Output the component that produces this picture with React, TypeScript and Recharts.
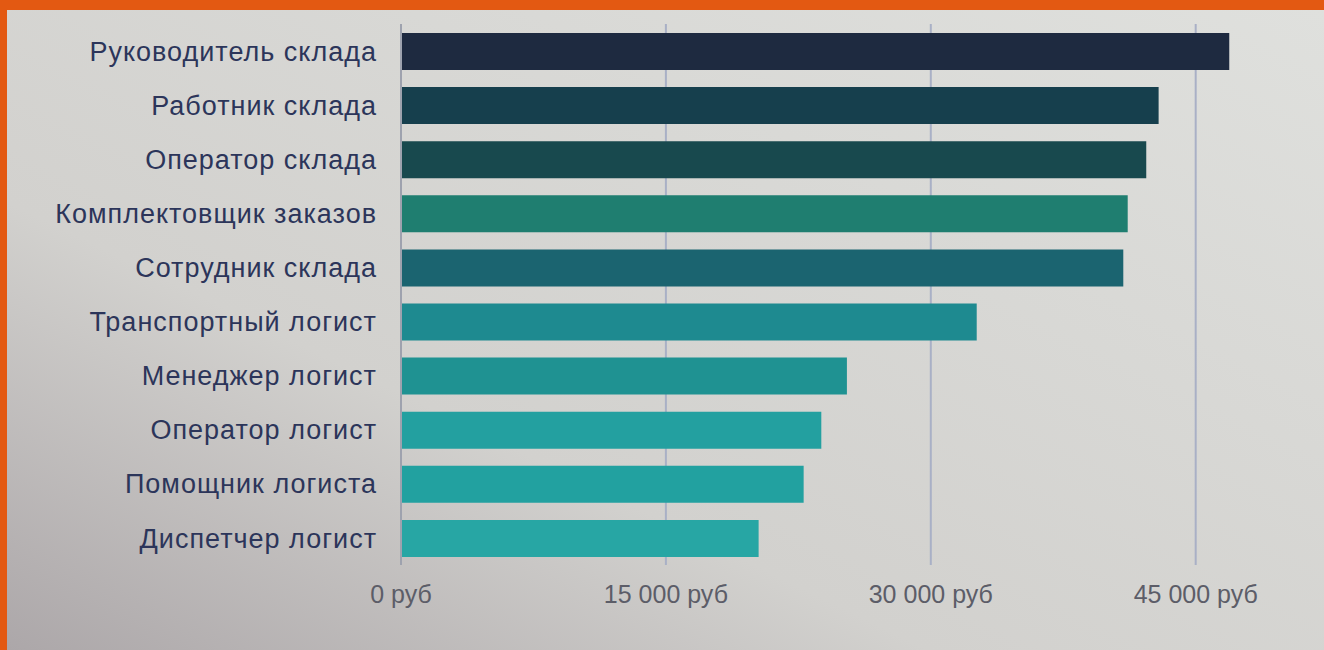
import React from 'react';
import { BarChart, Bar, Cell, XAxis, YAxis, CartesianGrid } from 'recharts';

const professions = [
  'Руководитель склада',
  'Работник склада',
  'Оператор склада',
  'Комплектовщик заказов',
  'Сотрудник склада',
  'Транспортный логист',
  'Менеджер логист',
  'Оператор логист',
  'Помощник логиста',
  'Диспетчер логист',
];

const salaries = [46900, 42900, 42200, 41150, 40900, 32600, 25250, 23800, 22800, 20250];

const barColors = [
  '#1e2a40',
  '#163f4d',
  '#18494e',
  '#1f7e70',
  '#1b6470',
  '#1e8a90',
  '#1f9292',
  '#23a0a0',
  '#22a1a0',
  '#27a6a4',
];

const xTicks = [0, 15000, 30000, 45000];

const data = professions.map((name, i) => ({ name, value: salaries[i] }));

const formatRub = (v: number) =>
  `${v.toLocaleString('ru-RU').replace(/\u00a0|\u202f/g, ' ')} руб`;

const XTick = ({ x, y, payload }: any) => (
  <text
    x={x}
    y={y + 30}
    textAnchor="middle"
    fill="#5c5d68"
    fontSize={25}
    fontFamily="'Liberation Sans', Arial, sans-serif"
  >
    {formatRub(payload.value)}
  </text>
);

export default function App() {
  return (
    <div
      style={{
        position: 'absolute',
        left: 0,
        top: 0,
        width: 1324,
        height: 650,
        boxSizing: 'border-box',
        borderTop: '10px solid #e35912',
        borderLeft: '7px solid #e35912',
        background: 'linear-gradient(to top right, #aca7a9 0%, #d2d1ce 35%, #dfe0dd 100%)',
        overflow: 'hidden',
      }}
    >
      <div style={{ position: 'absolute', left: -7, top: -10 }}>
        <BarChart
          width={1324}
          height={650}
          data={data}
          layout="vertical"
          margin={{ top: 24, right: 40, bottom: 25, left: 0 }}
        >
          <CartesianGrid
            horizontal={false}
            stroke="#a9b0c6"
            strokeWidth={2}
            syncWithTicks
          />
          <XAxis
            type="number"
            domain={[0, 50000]}
            ticks={xTicks}
            axisLine={false}
            tickLine={false}
            height={60}
            tick={<XTick />}
          />
          <YAxis
            type="category"
            dataKey="name"
            width={401}
            axisLine={{ stroke: '#9ea2ae', strokeWidth: 2 }}
            tickLine={false}
            tickSize={0}
            tickMargin={24}
            tick={{
              fill: '#2c355a',
              fontSize: 27,
              fontFamily: "'Liberation Sans', Arial, sans-serif",
              letterSpacing: 1,
            }}
          />
          <Bar dataKey="value" barSize={37} isAnimationActive={false}>
            {data.map((d, i) => (
              <Cell key={d.name} fill={barColors[i]} />
            ))}
          </Bar>
        </BarChart>
      </div>
    </div>
  );
}
